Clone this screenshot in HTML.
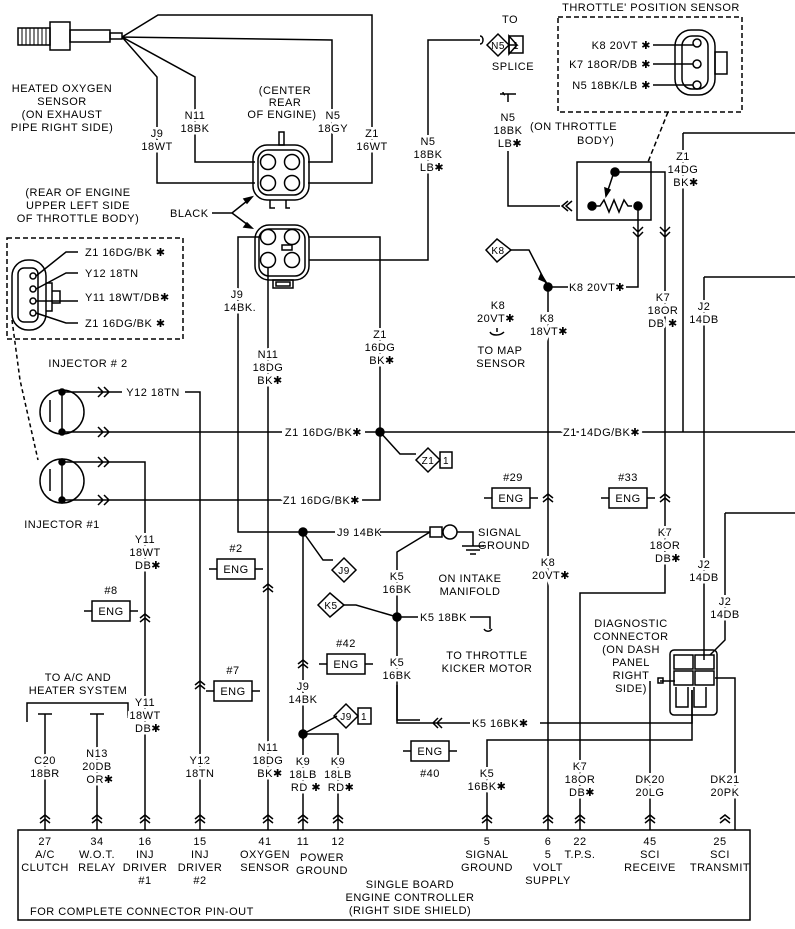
<!DOCTYPE html>
<html><head><meta charset="utf-8"><style>
body{margin:0;background:#fff}
svg{display:block}
text{font-family:"Liberation Sans",sans-serif;font-size:11px;fill:#000;letter-spacing:0.5px}
.m{text-anchor:middle}
.e{text-anchor:end}
.bg{stroke:#fff;stroke-width:5px;paint-order:stroke}
</style></head><body>
<svg width="795" height="929" viewBox="0 0 795 929" fill="none" stroke="#000" stroke-width="1.5">
<!-- O2 sensor -->
<rect x="18" y="28" width="32" height="17"/>
<path d="M22 28v17M26 28v17M30 28v17M34 28v17M38 28v17M42 28v17M46 28v17" stroke-width="1"/>
<rect x="50" y="22" width="20" height="28"/>
<rect x="70" y="30" width="40" height="12"/>
<rect x="110" y="33" width="12" height="6"/>
<path d="M122 37L158 15H372V183H308M122 37L332 40V162H308M122 37L157 77V183H255M122 37L195 77V162H255"/>
<text x="62" y="92" class="m" stroke="none">HEATED OXYGEN</text>
<text x="62" y="105" class="m" stroke="none">SENSOR</text>
<text x="62" y="118" class="m" stroke="none">(ON EXHAUST</text>
<text x="62" y="131" class="m" stroke="none">PIPE RIGHT SIDE)</text>
<text x="157" y="137" class="m bg" stroke="none">J9</text><text x="157" y="150" class="m bg" stroke="none">18WT</text>
<text x="195" y="119" class="m bg" stroke="none">N11</text><text x="195" y="132" class="m bg" stroke="none">18BK</text>
<text x="285" y="94" class="m" stroke="none">(CENTER</text><text x="285" y="106" class="m" stroke="none">REAR</text><text x="282" y="118" class="m" stroke="none">OF ENGINE)</text>
<text x="333" y="119" class="m bg" stroke="none">N5</text><text x="333" y="132" class="m bg" stroke="none">18GY</text>
<text x="372" y="137" class="m bg" stroke="none">Z1</text><text x="372" y="150" class="m bg" stroke="none">16WT</text>
<!-- upper connector -->
<rect x="279" y="132" width="5" height="13"/>
<rect x="253" y="145" width="56" height="55" rx="14"/>
<rect x="258" y="150" width="46" height="45" rx="10"/>
<circle cx="268" cy="162" r="7.5"/><circle cx="292" cy="162" r="7.5"/><circle cx="268" cy="183" r="7.5"/><circle cx="292" cy="183" r="7.5"/>
<path d="M270 200v8h5M286 200v8h4"/>
<!-- BLACK -->
<text x="170" y="217" stroke="none">BLACK</text>
<path d="M212 213h20l20-16M232 213l20 15"/>
<path d="M252 197l-8 2 3 4zM252 228l-8-1 3-4z" fill="#000"/>
<!-- lower connector -->
<rect x="255" y="225" width="54" height="55" rx="14"/>
<rect x="259" y="229" width="46" height="47" rx="10"/>
<circle cx="268" cy="237" r="7.5"/><circle cx="292" cy="237" r="7.5"/><circle cx="268" cy="260" r="7.5"/><circle cx="292" cy="260" r="7.5"/>
<rect x="282" y="245" width="10" height="5"/>
<rect x="273" y="280" width="20" height="8"/><rect x="276" y="282" width="14" height="4"/>
<path d="M260 237H238V532H303M268 268V830M309 237H380V500H362M309 260H428V40H480"/>
<text x="237" y="298" class="m bg" stroke="none">J9</text><text x="240" y="311" class="m bg" stroke="none">14BK.</text>
<text x="268" y="358" class="m bg" stroke="none">N11</text><text x="268" y="371" class="m bg" stroke="none">18DG</text><text x="270" y="384" class="m bg" stroke="none">BK✱</text>
<text x="380" y="338" class="m bg" stroke="none">Z1</text><text x="380" y="351" class="m bg" stroke="none">16DG</text><text x="382" y="364" class="m bg" stroke="none">BK✱</text>
<text x="428" y="145" class="m bg" stroke="none">N5</text><text x="428" y="158" class="m bg" stroke="none">18BK</text><text x="432" y="171" class="m bg" stroke="none">LB✱</text>
<!-- N5 splice -->
<path d="M480 36c4 0 4 8 0 8" />
<path d="M487 45l11-11 11 11-11 11z"/><path d="M509 45h8l-8-9v18l8-9"/><rect x="509" y="36" width="14" height="17"/>
<text x="498" y="49" class="m" stroke="none" style="font-size:10px">N5</text><text x="516" y="49" class="m" stroke="none" style="font-size:10px">1</text>
<text x="510" y="23" class="m" stroke="none">TO</text><text x="513" y="70" class="m" stroke="none">SPLICE</text>
<path d="M500 94h16M508 94v8 M503 92c0 2 2 3 2 3"/>
<text x="508" y="121" class="m" stroke="none">N5</text><text x="508" y="134" class="m" stroke="none">18BK</text><text x="510" y="147" class="m" stroke="none">LB✱</text>
<path d="M508 151V206H560M568 201l-6 5 6 5M572 201l-6 5 6 5"/>
<!-- TPS dashed box -->
<rect x="558" y="17" width="184" height="95" stroke-dasharray="5,3"/>
<text x="651" y="11" class="m" stroke="none">THROTTLE' POSITION SENSOR</text>
<text x="651" y="49" class="e" stroke="none">K8 20VT ✱</text>
<text x="651" y="68" class="e" stroke="none">K7 18OR/DB ✱</text>
<text x="651" y="89" class="e" stroke="none">N5 18BK/LB ✱</text>
<path d="M653 45h40M653 64h40M653 85h40"/>
<rect x="675" y="30" width="40" height="65" rx="16"/><rect x="682" y="36" width="26" height="53" rx="10"/>
<circle cx="697" cy="43" r="4"/><circle cx="697" cy="64" r="4"/><circle cx="697" cy="85" r="4"/>
<rect x="715" y="52" width="12" height="22"/>
<path d="M668 112l-20 50" stroke-dasharray="5,3"/>
<text x="530" y="130" stroke="none">(ON THROTTLE</text><text x="577" y="144" stroke="none">BODY)</text>
<rect x="577" y="162" width="74" height="58"/>
<path d="M592 206h8l4-6 5 12 5-12 5 12 5-12 4 6h4M614 172l-8 24"/>
<path d="M606 196l-1-8 5 2z" fill="#000"/>
<circle cx="592" cy="206" r="4" fill="#000"/><circle cx="615" cy="172" r="4" fill="#000"/><circle cx="638" cy="206" r="4" fill="#000"/>
<path d="M615 172H665V593H580V830M638 206V287H626M633 227l5 5 5-5M633 232l5 5 5-5M660 227l5 5 5-5M660 232l5 5 5-5"/>
<path d="M683 133H795M683 133V432"/>
<text x="683" y="160" class="m bg" stroke="none">Z1</text><text x="683" y="173" class="m bg" stroke="none">14DG</text><text x="686" y="186" class="m bg" stroke="none">BK✱</text>
<text x="663" y="301" class="m bg" stroke="none">K7</text><text x="663" y="314" class="m bg" stroke="none">18OR</text><text x="663" y="327" class="m bg" stroke="none">DB ✱</text>
<path d="M704 277H795M704 277V660"/>
<text x="704" y="310" class="m bg" stroke="none">J2</text><text x="704" y="323" class="m bg" stroke="none">14DB</text>
<!-- K8 -->
<path d="M486 250l11-11 14 11-14 12z"/><text x="498" y="254" class="m" stroke="none" style="font-size:10px">K8</text>
<path d="M511 250h18l19 37M548 287V830M548 287h20"/>
<circle cx="548" cy="287" r="4" fill="#000"/>
<path d="M546 282l-5-8 -2 5z" fill="#000"/>
<text x="597" y="291" class="m" stroke="none">K8 20VT✱</text>
<text x="498" y="309" class="m" stroke="none">K8</text><text x="496" y="322" class="m" stroke="none">20VT✱</text>
<path d="M490 332c2 4 10 4 14 0M497 328v4"/>
<text x="500" y="354" class="m" stroke="none">TO MAP</text><text x="501" y="367" class="m" stroke="none">SENSOR</text>
<text x="547" y="322" class="m bg" stroke="none">K8</text><text x="549" y="335" class="m bg" stroke="none">18VT✱</text>
<!-- Injectors -->
<path d="M12 320L20 380l18 80" stroke-dasharray="4,3"/>
<circle cx="62" cy="412" r="22"/><circle cx="62" cy="481" r="22"/>
<path d="M62 392V432M50 400v22M62 463V501M50 469v22"/>
<circle cx="62" cy="392" r="3" fill="#000"/><circle cx="62" cy="432" r="3" fill="#000"/><circle cx="62" cy="462" r="3" fill="#000"/><circle cx="62" cy="500" r="3" fill="#000"/>
<path d="M62 392H122M62 432H280M62 462H145V830M62 500H280M98 387l5 5-5 5M104 387l5 5-5 5M98 427l5 5-5 5M104 427l5 5-5 5M98 457l5 5-5 5M104 457l5 5-5 5M98 495l5 5-5 5M104 495l5 5-5 5"/>
<path d="M185 392H200V830"/>
<text x="153" y="396" class="m" stroke="none">Y12 18TN</text>
<text x="88" y="367" class="m" stroke="none">INJECTOR # 2</text>
<text x="62" y="528" class="m" stroke="none">INJECTOR #1</text>
<path d="M280 432H282M365 432H795"/>
<text x="362" y="436" class="e bg" stroke="none">Z1 16DG/BK✱</text>
<text x="563" y="436" class="bg" stroke="none">Z1 14DG/BK✱</text>
<path d="M280 500H285"/>
<text x="360" y="504" class="e bg" stroke="none">Z1 16DG/BK✱</text>
<circle cx="380" cy="432" r="4" fill="#000"/>
<path d="M380 432l20 22h16"/>
<path d="M416 460l12-12 12 12-12 12z"/><rect x="440" y="452" width="12" height="16"/>
<text x="428" y="464" class="m" stroke="none" style="font-size:10px">Z1</text><text x="446" y="464" class="m" stroke="none" style="font-size:10px">1</text>
<!-- J9 junction -->
<circle cx="303" cy="532" r="4" fill="#000"/>
<path d="M303 532H335M380 532H430M303 532V740M303 532l20 28h10"/>
<text x="337" y="536" stroke="none">J9 14BK</text>
<path d="M332 570l12-12 12 12-12 12z"/><text x="344" y="574" class="m" stroke="none" style="font-size:10px">J9</text>
<rect x="430" y="527" width="12" height="10"/><circle cx="450" cy="532" r="7"/>
<path d="M457 532h16v14M462 546h22M466 550h14M470 554h6M430 532l-33 20V720H420"/>
<text x="478" y="536" stroke="none">SIGNAL</text><text x="478" y="549" stroke="none">GROUND</text>
<text x="470" y="582" class="m" stroke="none">ON INTAKE</text><text x="470" y="595" class="m" stroke="none">MANIFOLD</text>
<text x="397" y="580" class="m bg" stroke="none">K5</text><text x="397" y="593" class="m bg" stroke="none">16BK</text>
<path d="M318 605l12-12 14 12-14 12z"/><text x="331" y="609" class="m" stroke="none" style="font-size:10px">K5</text>
<path d="M344 605h12l41 12H418M470 617h20v12M484 629c2 3 6 3 8 0"/>
<circle cx="397" cy="617" r="4" fill="#000"/>
<text x="420" y="621" stroke="none">K5 18BK</text>
<text x="487" y="659" class="m" stroke="none">TO THROTTLE</text><text x="487" y="672" class="m" stroke="none">KICKER MOTOR</text>
<text x="397" y="666" class="m bg" stroke="none">K5</text><text x="397" y="679" class="m bg" stroke="none">16BK</text>
<path d="M397 685V723H428M428 723H470M540 723H692V690M438 718l-5 5 5 5M442 718l-5 5 5 5"/>
<text x="472" y="727" stroke="none">K5 16BK✱</text>
<!-- ENG boxes -->
<g>
<rect x="92" y="601" width="38" height="20"/><path d="M84 611h8M130 611h8"/><text x="111" y="615" class="m" stroke="none">ENG</text><text x="111" y="594" class="m" stroke="none">#8</text>
<rect x="217" y="559" width="38" height="20"/><path d="M209 569h8M255 569h8"/><text x="236" y="573" class="m" stroke="none">ENG</text><text x="236" y="552" class="m" stroke="none">#2</text>
<rect x="214" y="681" width="38" height="20"/><path d="M206 691h8M252 691h8"/><text x="233" y="695" class="m" stroke="none">ENG</text><text x="233" y="674" class="m" stroke="none">#7</text>
<rect x="327" y="654" width="38" height="20"/><path d="M319 664h8M365 664h8"/><text x="346" y="668" class="m" stroke="none">ENG</text><text x="346" y="647" class="m" stroke="none">#42</text>
<rect x="492" y="488" width="38" height="20"/><path d="M484 498h8M530 498h8"/><text x="511" y="502" class="m" stroke="none">ENG</text><text x="513" y="481" class="m" stroke="none">#29</text>
<rect x="609" y="488" width="38" height="20"/><path d="M601 498h8M647 498h8"/><text x="628" y="502" class="m" stroke="none">ENG</text><text x="628" y="481" class="m" stroke="none">#33</text>
<rect x="411" y="741" width="38" height="20"/><path d="M403 751h8M449 751h8"/><text x="430" y="755" class="m" stroke="none">ENG</text><text x="430" y="777" class="m" stroke="none">#40</text>
</g>
<path d="M140 618l5-4 5 4M140 622l5-4 5 4M263 588l5-4 5 4M263 592l5-4 5 4M298 664l5-4 5 4M298 668l5-4 5 4M195 685l5-4 5 4M195 689l5-4 5 4M543 498l5-4 5 4M543 502l5-4 5 4M660 498l5-4 5 4M660 502l5-4 5 4"/>
<text x="145" y="543" class="m bg" stroke="none">Y11</text><text x="145" y="556" class="m bg" stroke="none">18WT</text><text x="148" y="569" class="m bg" stroke="none">DB✱</text>
<text x="548" y="566" class="m bg" stroke="none">K8</text><text x="551" y="579" class="m bg" stroke="none">20VT✱</text>
<text x="665" y="536" class="m bg" stroke="none">K7</text><text x="665" y="549" class="m bg" stroke="none">18OR</text><text x="668" y="562" class="m bg" stroke="none">DB✱</text>
<text x="704" y="568" class="m bg" stroke="none">J2</text><text x="704" y="581" class="m bg" stroke="none">14DB</text>
<path d="M725 513H795M725 513V640l-15 15"/>
<text x="725" y="605" class="m bg" stroke="none">J2</text><text x="725" y="618" class="m bg" stroke="none">14DB</text>
<text x="631" y="627" class="m" stroke="none">DIAGNOSTIC</text><text x="631" y="640" class="m" stroke="none">CONNECTOR</text><text x="631" y="653" class="m" stroke="none">(ON DASH</text><text x="631" y="666" class="m" stroke="none">PANEL</text><text x="631" y="679" class="m" stroke="none">RIGHT</text><text x="631" y="692" class="m" stroke="none">SIDE)</text>
<!-- diagnostic connector -->
<rect x="670" y="650" width="47" height="65" rx="4"/>
<rect x="674" y="655" width="19" height="14"/><rect x="695" y="655" width="19" height="14"/>
<rect x="674" y="671" width="19" height="14"/><rect x="695" y="671" width="19" height="14"/>
<path d="M676 687v20h12v-20M694 687v20h12v-20M660 681h15M715 678h20V830M650 681V830M692 690V740H487V830"/>
<rect x="658" y="678" width="5" height="5"/>
<!-- A/C -->
<text x="78" y="681" class="m" stroke="none">TO A/C AND</text><text x="78" y="694" class="m" stroke="none">HEATER SYSTEM</text>
<path d="M27 722V703H128V718M38 714h14M45 714v6M90 714h14M97 714v6"/>
<path d="M45 720V830M97 720V830"/>
<text x="45" y="764" class="m bg" stroke="none">C20</text><text x="45" y="777" class="m bg" stroke="none">18BR</text>
<text x="97" y="757" class="m bg" stroke="none">N13</text><text x="97" y="770" class="m bg" stroke="none">20DB</text><text x="100" y="783" class="m bg" stroke="none">OR✱</text>
<text x="145" y="706" class="m bg" stroke="none">Y11</text><text x="145" y="719" class="m bg" stroke="none">18WT</text><text x="148" y="732" class="m bg" stroke="none">DB✱</text>
<text x="200" y="764" class="m bg" stroke="none">Y12</text><text x="200" y="777" class="m bg" stroke="none">18TN</text>
<text x="268" y="751" class="m bg" stroke="none">N11</text><text x="268" y="764" class="m bg" stroke="none">18DG</text><text x="270" y="777" class="m bg" stroke="none">BK✱</text>
<text x="303" y="690" class="m bg" stroke="none">J9</text><text x="303" y="703" class="m bg" stroke="none">14BK</text>
<circle cx="303" cy="734" r="4" fill="#000"/>
<path d="M303 734V830M303 734H338V830M303 734l34-18"/>
<path d="M334 716l12-12 12 12-12 12z"/><rect x="358" y="708" width="13" height="16"/>
<text x="346" y="720" class="m" stroke="none" style="font-size:10px">J9</text><text x="364" y="720" class="m" stroke="none" style="font-size:10px">1</text>
<text x="303" y="765" class="m bg" stroke="none">K9</text><text x="303" y="778" class="m bg" stroke="none">18LB</text><text x="306" y="791" class="m bg" stroke="none">RD ✱</text>
<text x="338" y="765" class="m bg" stroke="none">K9</text><text x="338" y="778" class="m bg" stroke="none">18LB</text><text x="341" y="791" class="m bg" stroke="none">RD✱</text>
<text x="487" y="777" class="m bg" stroke="none">K5</text><text x="487" y="790" class="m bg" stroke="none">16BK✱</text>
<text x="580" y="770" class="m bg" stroke="none">K7</text><text x="580" y="783" class="m bg" stroke="none">18OR</text><text x="582" y="796" class="m bg" stroke="none">DB✱</text>
<text x="650" y="783" class="m bg" stroke="none">DK20</text><text x="650" y="796" class="m bg" stroke="none">20LG</text>
<text x="725" y="783" class="m bg" stroke="none">DK21</text><text x="725" y="796" class="m bg" stroke="none">20PK</text>
<path d="M40 819l5-4 5 4M40 823l5-4 5 4M92 819l5-4 5 4M92 823l5-4 5 4M140 819l5-4 5 4M140 823l5-4 5 4M195 819l5-4 5 4M195 823l5-4 5 4M263 819l5-4 5 4M263 823l5-4 5 4M298 819l5-4 5 4M298 823l5-4 5 4M333 819l5-4 5 4M333 823l5-4 5 4M482 819l5-4 5 4M482 823l5-4 5 4M543 819l5-4 5 4M543 823l5-4 5 4M575 819l5-4 5 4M575 823l5-4 5 4M645 819l5-4 5 4M645 823l5-4 5 4M720 819l5-4 5 4M720 823l5-4 5 4"/>
<!-- controller box -->
<rect x="18" y="830" width="732" height="90" fill="#fff"/>
<text x="45" y="845" class="m" stroke="none">27</text><text x="45" y="858" class="m" stroke="none">A/C</text><text x="45" y="871" class="m" stroke="none">CLUTCH</text>
<text x="97" y="845" class="m" stroke="none">34</text><text x="97" y="858" class="m" stroke="none">W.O.T.</text><text x="97" y="871" class="m" stroke="none">RELAY</text>
<text x="145" y="845" class="m" stroke="none">16</text><text x="145" y="858" class="m" stroke="none">INJ</text><text x="145" y="871" class="m" stroke="none">DRIVER</text><text x="145" y="884" class="m" stroke="none">#1</text>
<text x="200" y="845" class="m" stroke="none">15</text><text x="200" y="858" class="m" stroke="none">INJ</text><text x="200" y="871" class="m" stroke="none">DRIVER</text><text x="200" y="884" class="m" stroke="none">#2</text>
<text x="265" y="845" class="m" stroke="none">41</text><text x="265" y="858" class="m" stroke="none">OXYGEN</text><text x="265" y="871" class="m" stroke="none">SENSOR</text>
<text x="303" y="845" class="m" stroke="none">11</text><text x="338" y="845" class="m" stroke="none">12</text>
<text x="322" y="861" class="m" stroke="none">POWER</text><text x="322" y="874" class="m" stroke="none">GROUND</text>
<text x="487" y="845" class="m" stroke="none">5</text><text x="487" y="858" class="m" stroke="none">SIGNAL</text><text x="487" y="871" class="m" stroke="none">GROUND</text>
<text x="548" y="845" class="m" stroke="none">6</text><text x="548" y="858" class="m" stroke="none">5</text><text x="548" y="871" class="m" stroke="none">VOLT</text><text x="548" y="884" class="m" stroke="none">SUPPLY</text>
<text x="580" y="845" class="m" stroke="none">22</text><text x="580" y="858" class="m" stroke="none">T.P.S.</text>
<text x="650" y="845" class="m" stroke="none">45</text><text x="650" y="858" class="m" stroke="none">SCI</text><text x="650" y="871" class="m" stroke="none">RECEIVE</text>
<text x="720" y="845" class="m" stroke="none">25</text><text x="720" y="858" class="m" stroke="none">SCI</text><text x="720" y="871" class="m" stroke="none">TRANSMIT</text>
<text x="410" y="888" class="m" stroke="none">SINGLE BOARD</text><text x="410" y="901" class="m" stroke="none">ENGINE CONTROLLER</text><text x="410" y="914" class="m" stroke="none">(RIGHT SIDE SHIELD)</text>
<text x="30" y="915" stroke="none">FOR COMPLETE CONNECTOR PIN-OUT</text>
<!-- TB connector dashed box -->
<text x="78" y="196" class="m" stroke="none">(REAR OF ENGINE</text><text x="78" y="209" class="m" stroke="none">UPPER LEFT SIDE</text><text x="78" y="222" class="m" stroke="none">OF THROTTLE BODY)</text>
<rect x="7" y="238" width="176" height="101" stroke-dasharray="5,3"/>
<rect x="12" y="260" width="34" height="70" rx="16"/><rect x="18" y="268" width="20" height="54" rx="6"/>
<circle cx="33" cy="276" r="3"/><circle cx="33" cy="289" r="3"/><circle cx="33" cy="301" r="3"/><circle cx="33" cy="313" r="3"/>
<path d="M46 283h6v28h-6M52 291h8v12h-8"/>
<path d="M36 276l30-24h12M36 289l30-16h12M36 301h42M36 313l30 10h12"/>
<text x="85" y="256" stroke="none">Z1 16DG/BK ✱</text>
<text x="85" y="277" stroke="none">Y12 18TN</text>
<text x="85" y="301" stroke="none">Y11 18WT/DB✱</text>
<text x="85" y="327" stroke="none">Z1 16DG/BK ✱</text>
</svg>
</body></html>
